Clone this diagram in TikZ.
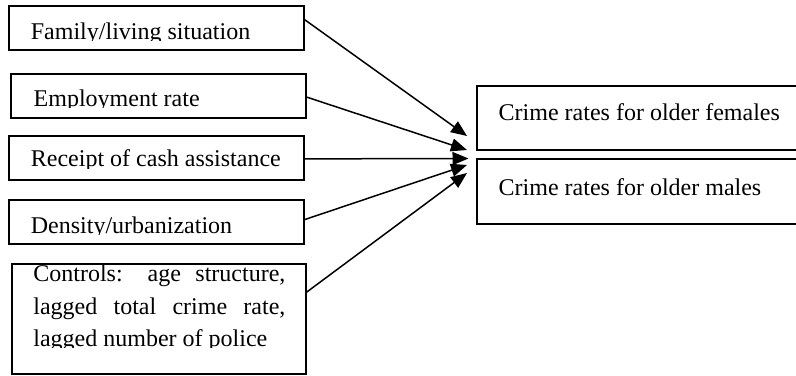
\documentclass[tikz,border=0pt]{standalone}
\usepackage{fontspec}
\setmainfont{Liberation Serif}
\usetikzlibrary{arrows.meta,calc}
\begin{document}
\begin{tikzpicture}[x=0.5pt,y=-0.5pt,
  box/.style={draw,line width=0.8pt,rectangle,inner sep=0pt,outer sep=0pt,anchor=north west},
  lbl/.style={inner sep=0pt,anchor=base west,font=\fontsize{12pt}{16.5pt}\selectfont},
  arr/.style={line width=0.75pt,-{Triangle[length=8pt,width=6.5pt]}}]
\useasboundingbox (0,0) rectangle (796,375);
\clip (0,0) rectangle (796,375);
% input boxes
\node[box,minimum width=147.5pt,minimum height=22pt] (b1) at (9,6) {};
\node[box,minimum width=147.5pt,minimum height=22pt] (b2) at (11,74) {};
\node[box,minimum width=147.5pt,minimum height=22pt] (b3) at (9,136) {};
\node[box,minimum width=147.5pt,minimum height=22pt] (b4) at (9,200) {};
\node[box,minimum width=147pt,minimum height=55pt] (b5) at (12,264) {};
% output boxes
\node[box,minimum width=170pt,minimum height=32pt] (oa) at (477,86) {};
\node[box,minimum width=170pt,minimum height=32.5pt] (ob) at (477,159) {};
% labels (bottoms clipped as in the reference)
\begin{scope}\clip (0,0) rectangle (796,40.5);
\node[lbl] (l1) at (30.5,39.3) {Family/living situation};
\end{scope}
\begin{scope}\clip (0,60) rectangle (796,107.8);
\node[lbl] (l2) at (33.3,106.7) {Employment rate};
\end{scope}
\begin{scope}\clip (0,125) rectangle (796,168);
\node[lbl] (l3) at (30.5,166.7) {Receipt of cash assistance};
\end{scope}
\begin{scope}\clip (0,190) rectangle (796,234.6);
\node[lbl] (l4) at (30.5,233.3) {Density/urbanization};
\end{scope}
\begin{scope}\clip (0,250) rectangle (796,347.5);
\node[lbl] (l5a) at (33,281.7) {\makebox[126pt][s]{Controls: age structure,}};
\node[lbl] (l5b) at (33,314) {\makebox[126pt][s]{lagged total crime rate,}};
\node[lbl] (l5c) at (33,346) {lagged number of police};
\end{scope}
\node[lbl] (la) at (498.3,120) {Crime rates for older females};
\node[lbl] (lb) at (498.3,195) {Crime rates for older males};
% arrow tips
\coordinate (t1) at (467,136);
\coordinate (t2) at (467,150);
\coordinate (t3) at (468.5,158.5);
\coordinate (t4) at (467,165);
\coordinate (t5) at (467,173);
\draw[arr] ($(b1.north east)!0.3!(b1.south east)$) -- (t1);
\draw[arr] ($(b2.north east)!0.52!(b2.south east)$) -- (t2);
\draw[arr] ($(b3.north east)!0.52!(b3.south east)$) -- (t3);
\draw[arr] ($(b4.north east)!0.45!(b4.south east)$) -- (t4);
\draw[arr] ($(b5.north east)!0.26!(b5.south east)$) -- (t5);
\end{tikzpicture}
\end{document}
